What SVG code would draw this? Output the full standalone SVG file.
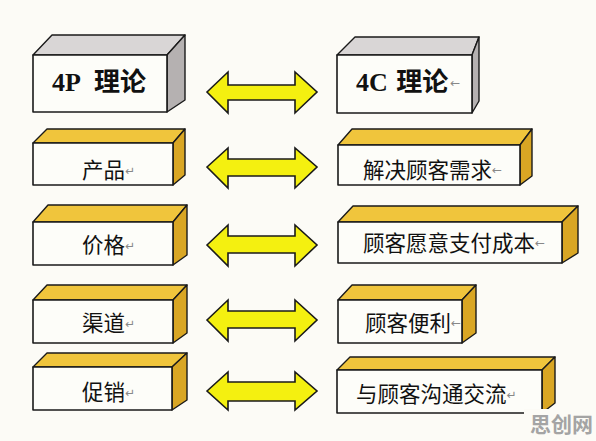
<svg xmlns="http://www.w3.org/2000/svg" width="596" height="441" viewBox="0 0 596 441">
<defs>
<style>
.front{fill:#fdfdf9;stroke:#1a1a1a;stroke-width:1.6;stroke-linejoin:round}
.gtop{fill:#d9d6d6;stroke:#1a1a1a;stroke-width:1.4;stroke-linejoin:round}
.gside{fill:#b5b1b1;stroke:#1a1a1a;stroke-width:1.4;stroke-linejoin:round}
.ytop{fill:#f0c53c;stroke:#1a1a1a;stroke-width:1.4;stroke-linejoin:round}
.yside{fill:#d9a624;stroke:#1a1a1a;stroke-width:1.4;stroke-linejoin:round}
.head{font-family:"Liberation Serif","Noto Sans CJK SC",serif;font-weight:700;font-size:26px;fill:#111}
.lbl{font-family:"Noto Sans CJK SC","Noto Sans",sans-serif;font-size:21.5px;fill:#111}
.mark{font-family:"DejaVu Sans","Noto Sans CJK SC",sans-serif;font-weight:400;font-size:12px;fill:#888}
.arr{fill:#f4f010;stroke:#1a1a1a;stroke-width:1.6;stroke-linejoin:miter}
.wm{font-family:"Noto Sans CJK SC",sans-serif;font-weight:700;font-size:21px;fill:#a4a4a4}
</style>
</defs>
<rect width="596" height="441" fill="#fcfbf6"/>

<g id="node-4p">
<polygon class="gtop" points="33,55 52,35 185,35 167,55"/>
<polygon class="gside" points="167,55 185,35 185,100 167,112"/>
<rect class="front" x="33" y="55" width="134" height="57"/>
<text class="head" x="52" y="91">4P <tspan dx="8">理论</tspan></text>
</g>

<g id="node-4c">
<polygon class="gtop" points="337,55 355,37 479,37 472,55"/>
<polygon class="gside" points="472,55 479,37 479,101 472,113"/>
<rect class="front" x="337" y="55" width="135" height="58"/>
<text class="head" x="356" y="91">4C <tspan dx="2">理论</tspan><tspan class="mark" dx="2" dy="-4">←</tspan></text>
</g>

<g id="node-product">
<polygon class="ytop" points="33,143 47,129 185,129 173,143"/>
<polygon class="yside" points="173,143 185,129 185,175 173,185"/>
<rect class="front" x="33" y="143" width="140" height="42"/>
<text class="lbl" x="82" y="178">产品<tspan class="mark" dy="-3">↵</tspan></text>
</g>

<g id="node-need">
<polygon class="ytop" points="338,145 352,129 532,129 520,145"/>
<polygon class="yside" points="520,145 532,129 532,176 520,185"/>
<rect class="front" x="338" y="145" width="182" height="40"/>
<text class="lbl" x="363" y="178">解决顾客需求<tspan class="mark" dy="-4">←</tspan></text>
</g>

<g id="node-price">
<polygon class="ytop" points="33,222 48,205 187,205 173,222"/>
<polygon class="yside" points="173,222 187,205 187,255 173,265"/>
<rect class="front" x="33" y="222" width="140" height="43"/>
<text class="lbl" x="82" y="253">价格<tspan class="mark" dy="-3">↵</tspan></text>
</g>

<g id="node-cost">
<polygon class="ytop" points="338,222 353,206 578,206 562,222"/>
<polygon class="yside" points="562,222 578,206 578,253 562,263"/>
<rect class="front" x="338" y="222" width="224" height="41"/>
<text class="lbl" x="363" y="251">顾客愿意支付成本<tspan class="mark" dy="-4">←</tspan></text>
</g>

<g id="node-place">
<polygon class="ytop" points="33,300 47,285 187,285 173,300"/>
<polygon class="yside" points="173,300 187,285 187,333 173,343"/>
<rect class="front" x="33" y="300" width="140" height="43"/>
<text class="lbl" x="82" y="331">渠道<tspan class="mark" dy="-3">↵</tspan></text>
</g>

<g id="node-convenience">
<polygon class="ytop" points="338,300 352,285 476,285 462,300"/>
<polygon class="yside" points="462,300 476,285 476,333 462,343"/>
<rect class="front" x="338" y="300" width="124" height="43"/>
<text class="lbl" x="365" y="331">顾客便利<tspan class="mark" dy="-4">←</tspan></text>
</g>

<g id="node-promotion">
<polygon class="ytop" points="33,367 47,353 187,353 172,367"/>
<polygon class="yside" points="172,367 187,353 187,400 172,410"/>
<rect class="front" x="33" y="367" width="139" height="43"/>
<text class="lbl" x="82" y="400">促销<tspan class="mark" dy="-3">↵</tspan></text>
</g>

<g id="node-communication">
<polygon class="ytop" points="337,370 350,357 555,357 542,370"/>
<polygon class="yside" points="542,370 555,357 555,403 542,413"/>
<rect class="front" x="337" y="370" width="205" height="43"/>
<text class="lbl" x="356" y="402">与顾客沟通交流<tspan class="mark" dy="-3">↵</tspan></text>
</g>

<g id="connectors">
<polygon class="arr" points="207,92 228,72 228,85 295,85 295,72 317,92 295,113 295,100 228,100 228,113"/>
<polygon class="arr" points="207,167 228,148 228,159 295,159 295,148 317,167 295,188 295,176 228,176 228,188"/>
<polygon class="arr" points="207,245 228,225 228,236 295,236 295,225 317,245 295,266 295,253 228,253 228,266"/>
<polygon class="arr" points="207,320 228,300 228,311 295,311 295,300 317,320 295,341 295,328 228,328 228,341"/>
<polygon class="arr" points="207,391 228,372 228,382 295,382 295,372 317,391 295,410 295,401 228,401 228,410"/>
</g>

<rect x="524" y="409" width="72" height="32" fill="#fcfbf6"/>
<text class="wm" x="530" y="432">思创网</text>
</svg>
